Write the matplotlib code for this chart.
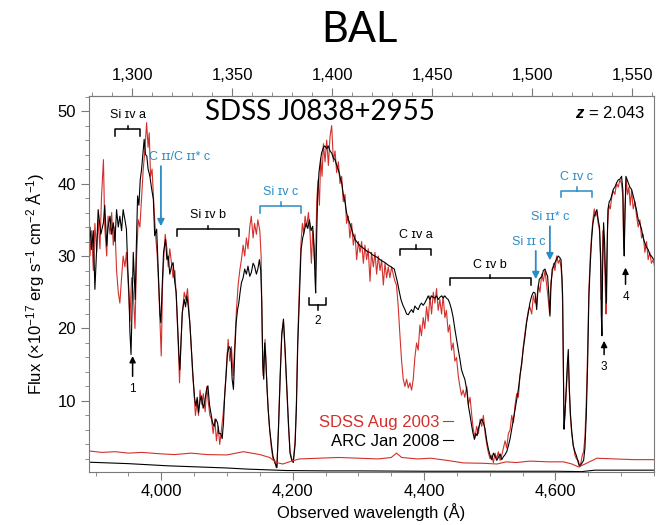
import numpy as np
import matplotlib.pyplot as plt
from matplotlib.ticker import MultipleLocator, FuncFormatter

# Redshift used for the rest-frame (top) axis
Z = 2.043

# ARC Jan 2008 spectrum (observed wavelength, flux)
arc_wave = [
    3889, 3891.5, 3894, 3896.6, 3899, 3901.7, 3904, 3908, 3912, 3914,
    3917, 3919, 3922, 3924.5, 3927, 3929.5, 3932, 3934.6, 3937, 3939.6,
    3942, 3944.7, 3947, 3949, 3951, 3952.3, 3954, 3955.4, 3957.4, 3959,
    3960.4, 3962, 3964, 3966, 3968, 3970, 3972, 3974, 3976, 3978,
    3980, 3982.7, 3985, 3988, 3990, 3993, 3995, 3996.4, 3998, 3999.4,
    4001.5, 4003.5, 4006.5, 4008.6, 4010.6, 4013, 4015.6, 4018, 4020.7, 4022.7,
    4024.8, 4026.8, 4028.3, 4030, 4032, 4035, 4037, 4039, 4041, 4043.5,
    4046, 4048.6, 4050.6, 4052.6, 4054.7, 4056.7, 4059, 4061, 4063.8, 4066,
    4068.8, 4071, 4073.4, 4075.4, 4078, 4080.5, 4083, 4085.6, 4088, 4090.6,
    4092.7, 4094.7, 4096.7, 4098.7, 4100.8, 4103.3, 4105.8, 4107.9, 4109.9, 4112,
    4114, 4116, 4118, 4120, 4122, 4124.6, 4127, 4129.6, 4132, 4134.7,
    4137, 4139.8, 4142, 4144.8, 4147, 4149.4, 4151.4, 4153, 4154.5, 4156,
    4157.5, 4159, 4161, 4163, 4165, 4167.6, 4170, 4172.7, 4175, 4176,
    4178.4, 4180.9, 4183.4, 4186, 4188.5, 4191, 4193.6, 4196, 4198.6, 4201,
    4203.7, 4205.7, 4207.7, 4210.3, 4212.8, 4215.3, 4217.9, 4220.4, 4223, 4225.5,
    4228, 4230.5, 4232.6, 4234, 4235, 4236.6, 4238, 4240, 4242, 4244,
    4246.8, 4249, 4251.8, 4254, 4256.9, 4259.4, 4262, 4264.5, 4267, 4269.6,
    4272, 4274.6, 4277, 4279.7, 4282, 4284.8, 4287, 4289.8, 4292, 4294.9,
    4299, 4302.5, 4306, 4310, 4314, 4317.7, 4321, 4325, 4329, 4333,
    4336.4, 4340.5, 4344.5, 4348, 4351.6, 4354.7, 4357, 4359.7, 4362, 4364.8,
    4367.8, 4370.9, 4373.4, 4376, 4378.5, 4381, 4383.5, 4386, 4388.6, 4391,
    4393.7, 4396, 4398.7, 4401, 4403.8, 4406.3, 4408.9, 4411.4, 4414, 4416.5,
    4419, 4421.5, 4424, 4426.6, 4429, 4431.7, 4434, 4436.7, 4439, 4441.8,
    4444.3, 4446.9, 4449.4, 4452, 4454.5, 4457, 4459.5, 4462, 4465, 4467.5,
    4470, 4472.6, 4474.6, 4476.7, 4478.7, 4480.7, 4482.7, 4485.3, 4487.8, 4490.3,
    4492.9, 4495.4, 4498, 4500.5, 4503, 4505.5, 4508, 4510.6, 4513, 4515.7,
    4518.2, 4520.7, 4523.3, 4525.8, 4528.3, 4530.9, 4533.4, 4536, 4538.5, 4541,
    4543.5, 4546, 4548.6, 4551, 4553.7, 4556, 4558.7, 4561, 4563.8, 4566.3,
    4568.9, 4571.4, 4573.4, 4575.4, 4577.5, 4579.5, 4581.5, 4584, 4586.6, 4588,
    4590, 4591.6, 4593, 4595, 4597.2, 4599.2, 4601.8, 4604.3, 4606.3, 4608.4,
    4609.9, 4610.9, 4612, 4613, 4614.4, 4616, 4618, 4619.5, 4621, 4622.6,
    4624.6, 4627, 4629.6, 4632, 4634.7, 4636.7, 4638.8, 4640.8, 4642.8, 4644.8,
    4646.9, 4648.9, 4650.9, 4653, 4655, 4657, 4659, 4661, 4663, 4665,
    4667, 4668.7, 4669.7, 4670.7, 4671.7, 4673.2, 4674.7, 4676.2, 4677.3, 4678.3,
    4679.8, 4681.8, 4683.9, 4685.9, 4687.9, 4690.4, 4693, 4695.5, 4698, 4700.6,
    4702.6, 4703.6, 4704.6, 4705.6, 4707.2, 4709.2, 4710.7, 4713.2, 4715.8, 4718.3,
    4720.8, 4723.4, 4725.9, 4728.4, 4731, 4733.5, 4736, 4738.6, 4741, 4743.6,
    4746, 4748.7, 4751,
]
arc_flux = [
    32.3, 34.0, 30.9, 33.5, 25.4, 31.0, 36.4, 33.0, 34.6, 37.0,
    31.4, 34.0, 35.5, 33.0, 34.6, 32.0, 36.4, 34.0, 35.5, 33.5,
    36.4, 35.0, 33.7, 28.5, 24.5, 19.5, 16.4, 22.0, 30.5, 27.0,
    24.0, 31.0, 38.3, 37.0, 40.5, 41.9, 44.0, 46.1, 44.0, 43.8,
    42.0, 41.0, 39.5, 37.8, 32.8, 33.7, 29.0, 25.4, 22.0, 20.8,
    26.0, 30.5, 32.3, 29.5, 30.0, 27.5, 28.6, 29.1, 26.3, 25.0,
    20.8, 16.5, 14.3, 18.0, 22.2, 24.0, 23.0, 24.5, 23.1, 20.8,
    17.0, 13.0, 10.5, 9.3, 10.5, 8.4, 10.0, 10.7, 9.0, 9.8,
    11.5, 12.1, 9.5, 8.4, 7.0, 6.5, 7.5, 7.0, 5.5, 5.5,
    4.8, 7.0, 11.0, 13.5, 16.6, 17.5, 17.1, 13.0, 11.6, 17.0,
    20.8, 22.5, 23.5, 25.0, 26.3, 27.0, 28.2, 27.5, 28.6, 27.2,
    27.7, 29.0, 28.6, 27.5, 28.2, 29.5, 28.0, 23.5, 15.0, 13.0,
    18.0, 16.0, 11.6, 8.5, 6.1, 4.0, 2.4, 1.5, 1.0, 0.8,
    6.0, 13.0, 19.0, 21.3, 17.1, 12.0, 7.0, 2.8, 1.8, 1.5,
    4.0, 9.0, 17.6, 24.5, 30.9, 32.5, 33.5, 34.5, 33.8, 35.0,
    33.5, 34.1, 31.4, 27.0, 24.9, 33.0, 38.3, 41.5, 43.0, 44.2,
    45.0, 45.2, 44.8, 45.2, 44.5, 44.2, 43.5, 43.3, 42.5, 41.9,
    41.0, 40.1, 38.5, 37.4, 36.0, 35.0, 34.5, 33.7, 33.0, 32.3,
    31.8, 31.4, 31.2, 30.9, 30.6, 30.5, 30.2, 30.0, 29.8, 29.5,
    29.3, 29.1, 28.8, 28.6, 28.4, 28.2, 27.3, 26.3, 25.2, 24.0,
    23.2, 22.6, 22.0, 21.9, 22.3, 22.6, 22.2, 23.1, 22.8, 22.6,
    23.2, 23.5, 23.2, 23.5, 24.0, 24.5, 24.0, 24.5, 24.3, 24.2,
    24.5, 24.0, 24.3, 24.5, 24.2, 24.5, 24.2, 24.0, 23.5, 22.6,
    21.5, 19.9, 18.5, 17.1, 15.8, 14.3, 13.6, 13.0, 11.5, 9.3,
    8.0, 6.5, 5.5, 4.7, 5.5, 5.2, 6.2, 7.0, 7.5, 7.0,
    6.1, 4.5, 3.3, 2.5, 1.9, 2.8, 2.4, 1.8, 2.2, 2.7,
    1.9, 2.3, 2.6, 3.0, 3.8, 4.8, 6.1, 7.5, 8.8, 10.2,
    11.6, 13.5, 15.3, 17.2, 19.0, 20.8, 22.2, 23.5, 24.5, 25.0,
    24.9, 22.6, 25.5, 26.8, 27.0, 27.2, 28.0, 28.2, 27.5, 27.2,
    24.5, 21.7, 25.5, 28.2, 28.6, 29.1, 29.6, 30.0, 29.8, 29.5,
    27.0, 24.5, 15.0, 6.1, 8.0, 11.0, 15.0, 17.1, 12.0, 8.4,
    6.0, 3.8, 3.0, 2.4, 1.5, 0.9, 1.2, 1.5, 1.8, 3.5,
    8.0, 15.0, 24.5, 29.0, 32.3, 34.5, 35.5, 36.0, 36.4, 35.0,
    34.0, 30.0, 22.0, 19.0, 28.0, 34.6, 32.0, 27.0, 23.5, 30.0,
    36.4, 37.5, 37.8, 38.5, 39.2, 39.5, 40.1, 40.5, 40.6, 41.0,
    39.0, 33.0, 30.0, 35.0, 41.0, 40.5, 40.1, 39.5, 39.2, 38.3,
    37.4, 36.3, 35.0, 34.5, 33.7, 32.5, 31.8, 31.2, 30.9, 30.2,
    30.0, 29.6, 29.5,
]

# SDSS Aug 2003 spectrum
sdss_wave = [
    3889, 3891.5, 3894, 3896.6, 3899, 3901.7, 3904, 3906.7, 3909, 3912,
    3914, 3917, 3919, 3922, 3924.5, 3927, 3929.5, 3932, 3934.6, 3937,
    3939.6, 3942, 3944.7, 3947, 3949.8, 3952.3, 3954.8, 3957.4, 3960, 3962.5,
    3965, 3967.5, 3970, 3972.6, 3975, 3977.7, 3980, 3981.7, 3983.7, 3986,
    3988.8, 3991.3, 3993.9, 3996, 3998, 4000, 4002, 4004, 4006, 4008.6,
    4010.6, 4013, 4015.6, 4018, 4020.7, 4023, 4025.8, 4027.8, 4029.8, 4032,
    4035, 4037.4, 4040, 4042.5, 4045, 4047.6, 4050, 4052, 4054.7, 4056.7,
    4059, 4061.7, 4064, 4066.8, 4069.3, 4071.4, 4074, 4076.4, 4079, 4081.5,
    4084, 4086.6, 4089, 4091.6, 4094, 4096.7, 4099, 4101.8, 4104.3, 4106.8,
    4109.4, 4112, 4114.4, 4117, 4119.5, 4122, 4124.6, 4127, 4129.6, 4132,
    4134.7, 4137, 4139.8, 4142, 4144.8, 4147, 4150, 4152, 4153.5, 4155,
    4156.5, 4158, 4160, 4162.6, 4165, 4167.6, 4170, 4172.7, 4175, 4176,
    4178.4, 4180.9, 4183.4, 4186, 4188.5, 4191, 4193.6, 4196, 4198.6, 4201,
    4203.7, 4205.7, 4207.7, 4210.3, 4212.8, 4214.8, 4216.8, 4218.9, 4221.4, 4224,
    4226.5, 4228.5, 4230.5, 4232.6, 4234.6, 4236.6, 4238.6, 4240.7, 4242.7, 4244.7,
    4246.8, 4249.3, 4251.8, 4254.4, 4256.9, 4259.4, 4262, 4264.5, 4267, 4269.6,
    4272, 4274.6, 4277, 4279.7, 4282, 4284.8, 4287, 4289.8, 4292.3, 4294.9,
    4297.4, 4300, 4302.5, 4305, 4307.6, 4310, 4312.6, 4315, 4317.7, 4320,
    4322.8, 4325.3, 4327.8, 4330.4, 4333, 4335.4, 4338, 4340.5, 4343, 4345.5,
    4348, 4350.6, 4353, 4355.7, 4358, 4360.7, 4363.3, 4365.8, 4368.3, 4370.9,
    4373.4, 4376, 4378.5, 4381, 4383.5, 4386, 4388.6, 4391, 4393.7, 4396,
    4398.7, 4401, 4403.8, 4406.3, 4408.9, 4411.4, 4414, 4416.5, 4419, 4421.5,
    4424, 4426.6, 4429, 4431.7, 4434, 4436.7, 4439, 4441.8, 4444.3, 4446.9,
    4449.4, 4452, 4454.5, 4457, 4459.5, 4462, 4465, 4467.5, 4470, 4472.6,
    4475, 4477.7, 4480, 4482.7, 4485.3, 4487.8, 4490.3, 4492.9, 4495.4, 4498,
    4500.5, 4503, 4505.5, 4508, 4510.6, 4513, 4515.7, 4518.2, 4520.7, 4523.3,
    4525.8, 4528.3, 4530.9, 4533.4, 4536, 4538.5, 4541, 4543.5, 4546, 4548.6,
    4551, 4553.7, 4556, 4558.7, 4561, 4563.8, 4566.3, 4568.9, 4571.4, 4574,
    4576.4, 4579, 4581.5, 4584, 4586.6, 4589, 4591, 4593, 4595, 4597.2,
    4599.2, 4601.8, 4604.3, 4606.3, 4608.4, 4609.9, 4610.9, 4612, 4613, 4614.4,
    4616, 4618, 4619.5, 4621, 4622.6, 4624.6, 4627, 4629.6, 4632, 4634.7,
    4636.7, 4638.8, 4640.8, 4642.8, 4644.8, 4646.9, 4648.9, 4650.9, 4653, 4655,
    4657, 4659, 4661, 4663, 4665, 4667, 4668.7, 4669.7, 4670.7, 4672.2,
    4673.7, 4675.2, 4676.8, 4677.8, 4679.3, 4681.3, 4683.4, 4685.4, 4688, 4690.4,
    4693, 4695.5, 4698, 4700.6, 4702.6, 4703.6, 4704.6, 4705.6, 4707.7, 4709.7,
    4711.7, 4713.7, 4715.8, 4718.3, 4720.8, 4723.4, 4725.9, 4728.4, 4731, 4733.5,
    4736, 4738.6, 4741, 4743.6, 4746, 4748.7, 4751,
]
sdss_flux = [
    36.0, 30.0, 33.5, 28.0, 34.5, 30.5, 35.0, 31.0, 38.0, 43.3,
    34.0, 30.0, 35.5, 33.0, 36.0, 31.5, 34.0, 28.0, 25.0, 23.5,
    27.0, 30.0, 28.5, 30.5, 26.0, 21.0, 27.0, 25.0, 20.0, 30.0,
    35.0, 34.0, 38.0, 42.0, 44.5, 48.4, 45.0, 47.0, 41.0, 42.0,
    37.0, 33.0, 30.0, 26.0, 21.0, 16.2, 26.0, 30.0, 33.0, 31.0,
    28.5, 31.0, 29.0, 27.0, 28.0, 24.0, 18.0, 12.5, 17.5, 22.0,
    25.0, 24.0, 25.5, 22.0, 18.5, 14.0, 11.0, 8.0, 10.0, 8.0,
    11.5, 9.5, 11.0, 8.5, 12.0, 10.0, 8.0, 7.5, 5.5, 7.5,
    4.5, 6.5, 4.0, 6.0, 8.0, 11.0, 14.5, 18.5, 15.5, 17.5,
    13.5, 18.0, 22.5, 26.0, 28.0, 29.5, 31.5, 30.0, 32.5, 31.0,
    34.0, 35.5, 32.5, 34.5, 33.0, 35.0, 33.5, 30.0, 20.0, 13.5,
    16.0, 18.5, 14.0, 9.0, 6.0, 3.5, 2.0, 1.8, 0.8, 1.0,
    6.5, 13.5, 19.5, 21.0, 16.5, 11.5, 6.5, 3.0, 2.0, 1.8,
    4.5, 10.0, 18.5, 26.0, 32.0, 34.5, 33.0, 35.5, 34.0, 36.0,
    33.0, 29.0, 33.5, 30.0, 28.0, 37.5, 40.5, 37.0, 43.5, 41.0,
    45.5, 43.0, 46.0, 42.5, 46.5, 48.0, 43.0, 44.5, 41.5, 43.0,
    40.0, 41.0, 37.5, 38.5, 34.5, 35.5, 32.5, 34.5, 31.5, 33.0,
    29.5, 32.0, 30.5, 32.0, 29.0, 31.5, 29.5, 31.0, 26.5, 30.5,
    28.5, 30.5, 27.5, 30.0, 28.0, 29.5, 26.0, 29.0, 27.0, 28.5,
    27.0, 28.5, 27.5, 26.5, 26.0, 23.0, 19.0, 15.5, 13.0, 12.0,
    13.0, 11.8, 12.5, 11.5, 13.0, 16.0, 18.0, 17.0, 20.5, 19.0,
    21.5, 20.0, 23.0, 21.0, 24.5, 22.0, 25.0, 23.5, 25.5, 22.5,
    24.0, 22.0, 24.5, 21.5, 22.5, 19.5, 20.5, 17.0, 18.0, 15.5,
    16.0, 13.5, 12.0, 10.8, 11.5, 10.5, 12.0, 9.5, 10.5, 8.0,
    6.0, 5.0, 6.5, 5.5, 7.5, 6.5, 8.0, 5.5, 4.0, 2.8,
    2.0, 2.5, 1.5, 2.8, 2.0, 3.0, 1.8, 2.5, 3.5, 4.5,
    3.5, 5.5, 6.0, 8.0, 7.0, 9.5, 11.0, 10.5, 13.5, 15.0,
    17.5, 19.5, 21.0, 22.5, 23.0, 22.0, 24.5, 23.5, 24.0, 26.0,
    25.0, 27.5, 26.5, 28.0, 26.0, 24.0, 22.0, 26.5, 27.5, 29.0,
    28.0, 30.0, 29.0, 29.5, 28.5, 26.5, 23.0, 14.0, 6.5, 8.5,
    10.5, 14.0, 16.0, 11.5, 8.0, 5.5, 4.0, 2.5, 2.0, 1.8,
    1.0, 1.5, 2.5, 3.0, 5.0, 10.0, 17.0, 25.5, 30.0, 33.0,
    35.0, 36.5, 35.5, 36.0, 34.5, 33.5, 29.0, 24.0, 27.0, 33.5,
    31.5, 28.0, 22.0, 24.0, 34.0, 37.0, 36.5, 38.0, 39.0, 38.5,
    40.0, 39.5, 40.5, 40.0, 38.0, 32.0, 31.0, 36.0, 40.5, 38.5,
    39.5, 37.0, 39.0, 36.5, 37.5, 35.5, 34.0, 35.0, 32.5, 33.0,
    30.5, 32.0, 29.5, 30.5, 29.0, 29.5, 28.5,
]

# error spectra along the bottom
sdss_err_wave = [3890, 3910, 3930, 3950, 3970, 4000, 4020, 4045, 4070, 4100,
                 4125, 4150, 4165, 4175, 4185, 4195, 4210, 4240, 4270, 4300,
                 4330, 4350, 4358, 4366, 4390, 4410, 4435, 4460, 4490, 4511,
                 4525, 4540, 4561, 4590, 4612, 4625, 4635, 4645, 4663, 4690,
                 4720, 4750]
sdss_err = [3.1, 2.9, 3.0, 2.8, 2.9, 2.7, 2.6, 2.8, 2.6, 2.55,
            3.0, 2.6, 2.2, 1.5, 1.3, 1.6, 2.0, 2.1, 2.2, 2.1,
            2.0, 2.2, 2.8, 2.2, 2.0, 2.1, 1.8, 1.45, 1.4, 1.3,
            1.6, 1.5, 1.7, 1.6, 1.6, 1.3, 0.9, 1.3, 2.1, 2.0,
            1.9, 1.9]
arc_err_wave = [3890, 3920, 3950, 3980, 4010, 4040, 4070, 4100, 4130, 4160,
                4190, 4250, 4300, 4400, 4500, 4600, 4640, 4660, 4700, 4750]
arc_err = [1.55, 1.45, 1.35, 1.2, 1.05, 0.95, 0.85, 0.75, 0.6, 0.5,
           0.4, 0.35, 0.35, 0.3, 0.3, 0.3, 0.25, 0.45, 0.45, 0.45]

legend_labels = ['SDSS Aug 2003', 'ARC Jan 2008']
rest_ticks = [1300, 1350, 1400, 1450, 1500, 1550]

# absorption-trough brackets
bracket_labels = ['Si ɪᴠ a', 'Si ɪᴠ b', 'Si ɪᴠ c', 'C ɪᴠ a', 'C ɪᴠ b', 'C ɪᴠ c']
bracket_lo = [3930, 4024, 4150, 4364, 4439, 4609]
bracket_hi = [3968, 4118, 4213, 4411, 4562, 4656]
bracket_y = [47.5, 33.7, 36.9, 31.0, 26.9, 39.0]
bracket_blue = [False, False, True, False, False, True]

# blue down-arrows (line identifications)
blue_labels = ['C ɪɪ/C ɪɪ* c', 'Si ɪɪ c', 'Si ɪɪ* c']
blue_x = [3999.5, 4570, 4591.5]
blue_tail = [42.4, 30.7, 34.1]
blue_head = [34.1, 26.8, 29.4]
blue_text_x = [4028, 4560, 4592]

# numbered up-arrows (narrow lines)
num_labels = ['1', '3', '4']
num_x = [3956.4, 4674, 4706.6]
num_tail = [13.4, 16.4, 26.1]
num_head = [16.2, 18.3, 28.4]

RED = '#d3302c'
BLUE = '#2a8cc4'
GREY = '#7a7a7a'

plt.rcParams['font.family'] = ['Liberation Sans', 'DejaVu Sans']
plt.rcParams['mathtext.fontset'] = 'custom'
plt.rcParams['mathtext.rm'] = 'Liberation Sans'
plt.rcParams['mathtext.it'] = 'Liberation Sans:italic:bold'

fig = plt.figure(figsize=(6.64, 5.25), dpi=100)
ax = fig.add_axes([0.134, 0.101, 0.851, 0.716])

l_sdss, = ax.plot(sdss_wave, sdss_flux, color=RED, lw=0.8)
l_arc, = ax.plot(arc_wave, arc_flux, color='black', lw=0.8)
ax.plot(sdss_err_wave, sdss_err, color=RED, lw=0.8)
ax.plot(arc_err_wave, arc_err, color='black', lw=0.8)

ax.set_xlim(3890, 4750)
ax.set_ylim(0.2, 52.07)

comma = FuncFormatter(lambda v, p: f'{v:,.0f}')
ax.xaxis.set_major_locator(MultipleLocator(200))
ax.xaxis.set_minor_locator(MultipleLocator(50))
ax.xaxis.set_major_formatter(comma)
ax.yaxis.set_major_locator(MultipleLocator(10))
ax.yaxis.set_minor_locator(MultipleLocator(2))
ax.tick_params(which='both', direction='out', color=GREY, labelsize=12,
               top=False, right=False)
ax.tick_params(which='major', length=6)
ax.tick_params(which='minor', length=3)
ax.tick_params(axis='x', pad=2.5)
for s in ax.spines.values():
    s.set_color(GREY)

top = ax.secondary_xaxis('top', functions=(lambda w: w / (1 + Z), lambda w: w * (1 + Z)))
top.set_xticks(rest_ticks)
top.xaxis.set_minor_locator(MultipleLocator(10))
top.xaxis.set_major_formatter(comma)
top.tick_params(which='both', direction='out', color=GREY, labelsize=12)
top.tick_params(which='major', length=6)
top.tick_params(which='minor', length=3)
top.spines['top'].set_color(GREY)

ax.set_xlabel('Observed wavelength (Å)', fontsize=12, labelpad=3)
ax.set_ylabel(r'Flux (×10$^{-17}$ erg s$^{-1}$ cm$^{-2}$ Å$^{-1}$)', fontsize=12, labelpad=7)

ax.legend(handles=[l_sdss, l_arc], labels=legend_labels, loc='center right',
          bbox_to_anchor=(0.645, 0.106), frameon=False, markerfirst=False,
          handlelength=0.6, handletextpad=0.25, labelspacing=0.25, fontsize=12,
          labelcolor='linecolor', borderaxespad=0, borderpad=0)

# brackets
for lab, x0, x1, y, blue in zip(bracket_labels, bracket_lo, bracket_hi, bracket_y, bracket_blue):
    c = BLUE if blue else 'black'
    xm = (x0 + x1) / 2
    ax.plot([x0, x0, x1, x1], [y - 0.9, y, y, y - 0.9], color=c, lw=1.1)
    ax.plot([xm, xm], [y, y + 0.5], color=c, lw=1.1)
    ax.text(xm, y + 1.9, lab, color=c, fontsize=9, ha='center', va='center')

# small inverted bracket "2"
ax.plot([4225, 4225, 4251, 4251], [24.2, 23.3, 23.3, 24.2], color='black', lw=1.1)
ax.plot([4238, 4238], [23.3, 22.6], color='black', lw=1.1)
ax.text(4238, 21.1, '2', fontsize=8.5, ha='center', va='center')

# blue arrows
for lab, x, y0, y1, tx in zip(blue_labels, blue_x, blue_tail, blue_head, blue_text_x):
    ax.annotate('', xy=(x, y1), xytext=(x, y0),
                arrowprops=dict(arrowstyle='-|>', color=BLUE, lw=1.3,
                                mutation_scale=10, shrinkA=0, shrinkB=0))
    ax.text(tx, y0 + 1.3, lab, color=BLUE, fontsize=9, ha='center', va='center')

# numbered black arrows
for lab, x, y0, y1 in zip(num_labels, num_x, num_tail, num_head):
    ax.annotate('', xy=(x, y1), xytext=(x, y0),
                arrowprops=dict(arrowstyle='-|>', color='black', lw=1.1,
                                mutation_scale=9, shrinkA=0, shrinkB=0))
    ax.text(x, y0 - 1.7, lab, fontsize=8.5, ha='center', va='center')

ax.text(0.984, 0.955, r'$\mathit{z}$ = 2.043', transform=ax.transAxes,
        ha='right', va='center', fontsize=12)

fig.text(0.542, 0.943, 'BAL', fontsize=30, family='Lato', ha='center', va='center')
fig.text(0.482, 0.787, 'SDSS J0838+2955', fontsize=20, family='Lato', ha='center', va='center')

fig.savefig('out.png', dpi=100)
